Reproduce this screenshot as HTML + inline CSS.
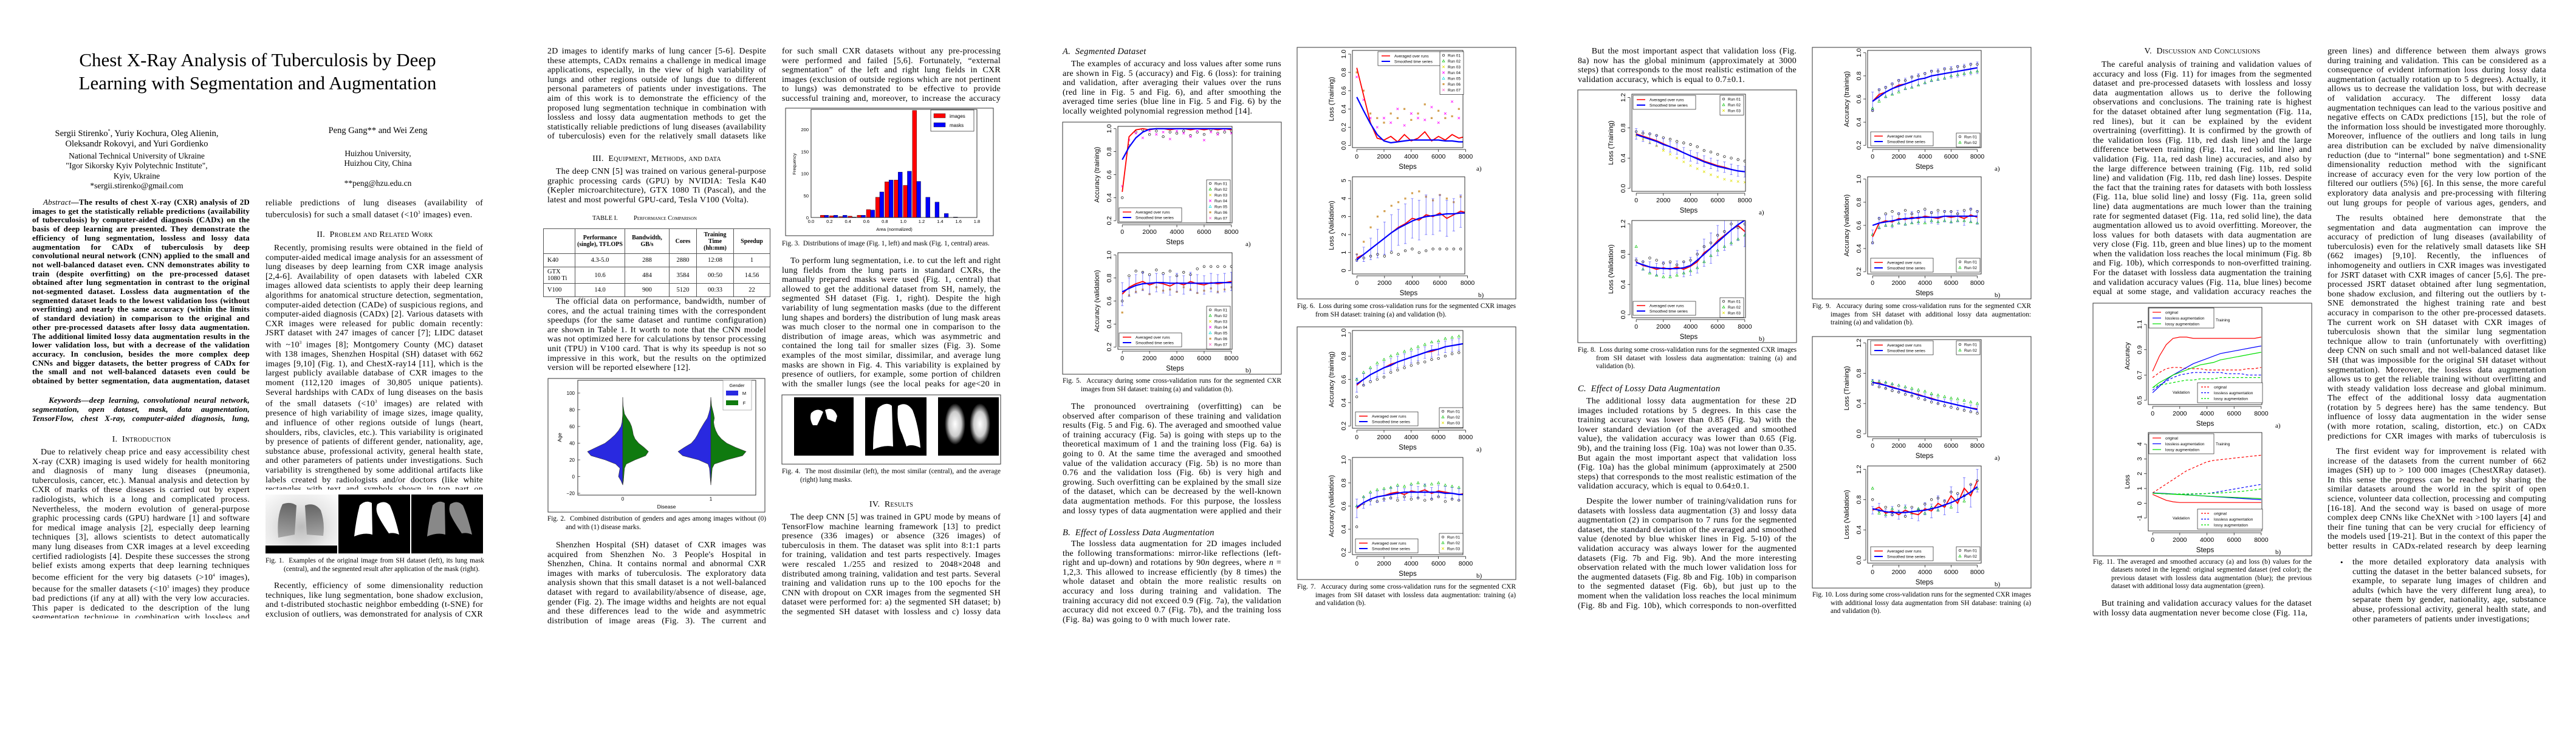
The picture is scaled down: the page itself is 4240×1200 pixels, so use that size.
<!DOCTYPE html>
<html><head><meta charset="utf-8">
<style>
html,body{margin:0;padding:0;background:#fff}
body{width:4240px;height:1200px;position:relative;overflow:hidden;font-family:"Liberation Serif",serif;color:#000}
.t{position:absolute;font-size:14px;letter-spacing:0.25px;word-spacing:0.5px;line-height:15.6px;text-align:justify;overflow:hidden;width:360px}
.ind{text-indent:14px}
.h{position:absolute;width:360px;text-align:center;font-size:14px;font-variant:small-caps;line-height:16px;letter-spacing:0.3px}
.hi{position:absolute;width:360px;font-size:14.5px;font-style:italic;line-height:16px;letter-spacing:0.3px}
.cap{position:absolute;width:330px;padding-left:30px;text-indent:-30px;font-size:11.3px;line-height:13.6px;text-align:justify;overflow:hidden}
.c{position:absolute;text-align:center}
svg{position:absolute;left:0;top:0}
table{border-collapse:collapse;position:absolute;font-size:10.5px;text-align:center}
td{border:1px solid #555;padding:0}
</style></head><body>

<div class="c" style="left:0;top:80px;width:848px;font-size:31px;line-height:38px">Chest X-Ray Analysis of Tuberculosis by Deep<br>Learning with Segmentation and Augmentation</div>
<div class="c" style="left:45px;top:207px;width:360px;font-size:14.5px;line-height:17.5px">Sergii Stirenko<sup style="font-size:8px">*</sup>, Yuriy Kochura, Oleg Alienin,<br>Oleksandr Rokovyi, and Yuri Gordienko<div style="font-size:13.5px;line-height:16.5px;margin-top:2px">National Technical University of Ukraine<br>"Igor Sikorsky Kyiv Polytechnic Institute",<br>Kyiv, Ukraine<br>*sergii.stirenko@gmail.com</div></div>
<div class="c" style="left:442px;top:207px;width:360px;font-size:14.5px;line-height:17.5px">Peng Gang** and Wei Zeng<div style="font-size:13.5px;line-height:16.5px;margin-top:20px">Huizhou University,<br>Huizhou City, China<br><br>**peng@hzu.edu.cn</div></div>

<div class="t" style="left:53px;top:326px;width:358px;height:309px;font-weight:bold;font-size:13px;letter-spacing:0.2px;line-height:14.7px"><span style="font-style:italic;font-weight:normal">&nbsp;&nbsp;&nbsp;&nbsp;Abstract</span>—The results of chest X-ray (CXR) analysis of 2D images to get the statistically reliable predictions (availability of tuberculosis) by computer-aided diagnosis (CADx) on the basis of deep learning are presented. They demonstrate the efficiency of lung segmentation, lossless and lossy data augmentation for CADx of tuberculosis by deep convolutional neural network (CNN) applied to the small and not well-balanced dataset even. CNN demonstrates ability to train (despite overfitting) on the pre-processed dataset obtained after lung segmentation in contrast to the original not-segmented dataset. Lossless data augmentation of the segmented dataset leads to the lowest validation loss (without overfitting) and nearly the same accuracy (within the limits of standard deviation) in comparison to the original and other pre-processed datasets after lossy data augmentation. The additional limited lossy data augmentation results in the lower validation loss, but with a decrease of the validation accuracy. In conclusion, besides the more complex deep CNNs and bigger datasets, the better progress of CADx for the small and not well-balanced datasets even could be obtained by better segmentation, data augmentation, dataset stratification, and exclusion of non-evident outliers.</div>
<div class="t" style="left:53px;top:652px;width:358px;height:46px;font-weight:bold;font-style:italic;font-size:13px;letter-spacing:0.2px;line-height:14.8px">&nbsp;&nbsp;&nbsp;&nbsp;Keywords—deep learning, convolutional neural network, segmentation, open dataset, mask, data augmentation, TensorFlow, chest X-ray, computer-aided diagnosis, lung, tuberculosis.</div>
<div class="h" style="left:53px;top:716px">I.&nbsp;&nbsp;Introduction</div>
<div class="t ind" style="left:53px;top:737px;width:358px;height:281px">Due to relatively cheap price and easy accessibility chest X-ray (CXR) imaging is used widely for health monitoring and diagnosis of many lung diseases (pneumonia, tuberculosis, cancer, etc.). Manual analysis and detection by CXR of marks of these diseases is carried out by expert radiologists, which is a long and complicated process. Nevertheless, the modern evolution of general-purpose graphic processing cards (GPU) hardware [1] and software for medical image analysis [2], especially deep learning techniques [3], allows scientists to detect automatically many lung diseases from CXR images at a level exceeding certified radiologists [4]. Despite these successes the strong belief exists among experts that deep learning techniques become efficient for the very big datasets (&gt;10<sup style="font-size:7px">4</sup> images), because for the smaller datasets (&lt;10<sup style="font-size:7px">3</sup> images) they produce bad predictions (if any at all) with the very low accuracies. This paper is dedicated to the description of the lung segmentation technique in combination with lossless and lossy data augmentation which allow us to get the statistically reliable</div>

<div class="t" style="left:437px;top:327px;width:358px;height:32px">reliable predictions of lung diseases (availability of tuberculosis) for such a small dataset (&lt;10<sup style="font-size:7px">3</sup> images) even.</div>
<div class="h" style="left:437px;top:379px">II.&nbsp;&nbsp;Problem and Related Work</div>
<div class="t ind" style="left:437px;top:401px;width:358px;height:405px">Recently, promising results were obtained in the field of computer-aided medical image analysis for an assessment of lung diseases by deep learning from CXR image analysis [2,4-6]. Availability of open datasets with labeled CXR images allowed data scientists to apply their deep learning algorithms for anatomical structure detection, segmentation, computer-aided detection (CADe) of suspicious regions, and computer-aided diagnosis (CADx) [2]. Various datasets with CXR images were released for public domain recently: JSRT dataset with 247 images of cancer [7]; LIDC dataset with ~10<sup style="font-size:7px">3</sup> images [8]; Montgomery County (MC) dataset with 138 images, Shenzhen Hospital (SH) dataset with 662 images [9,10] (Fig. 1), and ChestX-ray14 [11], which is the largest publicly available database of CXR images to the moment (112,120 images of 30,805 unique patients). Several hardships with CADx of lung diseases on the basis of the small datasets (&lt;10<sup style="font-size:7px">3</sup> images) are related with presence of high variability of image sizes, image quality, and influence of other regions outside of lungs (heart, shoulders, ribs, clavicles, etc.). This variability is originated by presence of patients of different gender, nationality, age, substance abuse, professional activity, general health state, and other parameters of patients under investigations. Such variability is strengthened by some additional artifacts like labels created by radiologists and/or doctors (like white rectangles with text and symbols shown in top part on Fig.1a).</div>
<div class="cap" style="left:437px;top:917px">Fig. 1.&nbsp;&nbsp;Examples of the original image from SH dataset (left), its lung mask (central), and the segmented result after application of the mask (right).</div>
<div class="t ind" style="left:437px;top:957px;width:358px;height:63px">Recently, efficiency of some dimensionality reduction techniques, like lung segmentation, bone shadow exclusion, and t-distributed stochastic neighbor embedding (t-SNE) for exclusion of outliers, was demonstrated for analysis of CXR images</div>

<!-- PAGE 2 -->
<div class="t" style="left:901px;top:77px;height:157px">2D images to identify marks of lung cancer [5-6]. Despite these attempts, CADx remains a challenge in medical image applications, especially, in the view of high variability of lungs and other regions outside of lungs due to different personal parameters of patients under investigations. The aim of this work is to demonstrate the efficiency of the proposed lung segmentation technique in combination with lossless and lossy data augmentation methods to get the statistically reliable predictions of lung diseases (availability of tuberculosis) even for the relatively small datasets like SH (&lt;10<sup style="font-size:7px">3</sup> images) [9,10].</div>
<div class="h" style="left:901px;top:254px">III.&nbsp;&nbsp;Equipment, Methods, and data</div>
<div class="t ind" style="left:901px;top:275px;height:63px">The deep CNN [5] was trained on various general-purpose graphic processing cards (GPU) by NVIDIA: Tesla K40 (Kepler microarchitecture), GTX 1080 Ti (Pascal), and the latest and most powerful GPU-card, Tesla V100 (Volta).</div>
<div style="position:absolute;left:975px;top:354px;font-size:10.5px;font-variant:small-caps;white-space:pre">TABLE I.          Performance Comparison</div>
<table style="left:894px;top:376px;width:374px;height:112px">
<tr style="height:41px;font-weight:bold;font-size:10px;line-height:11px"><td style="width:51px"></td><td style="width:81px">Performance (single), TFLOPS</td><td style="width:72px">Bandwidth, GB/s</td><td style="width:44px">Cores</td><td style="width:60px">Training Time (hh:mm)</td><td>Speedup</td></tr>
<tr style="height:22px"><td style="text-align:left;padding-left:6px">K40</td><td>4.3-5.0</td><td>288</td><td>2880</td><td>12:08</td><td>1</td></tr>
<tr style="height:27px;line-height:11px"><td style="text-align:left;padding-left:6px">GTX 1080 Ti</td><td>10.6</td><td>484</td><td>3584</td><td>00:50</td><td>14.56</td></tr>
<tr style="height:22px"><td style="text-align:left;padding-left:6px">V100</td><td>14.0</td><td>900</td><td>5120</td><td>00:33</td><td>22</td></tr>
</table>
<div class="t ind" style="left:901px;top:489px;height:125px">The official data on performance, bandwidth, number of cores, and the actual training times with the correspondent speedups (for the same dataset and runtime configuration) are shown in Table 1. It worth to note that the CNN model was not optimized here for calculations by tensor processing unit (TPU) in V100 card. That is why its speedup is not so impressive in this work, but the results on the optimized version will be reported elsewhere [12].</div>
<div class="cap" style="left:901px;top:848px">Fig. 2.&nbsp;&nbsp;Combined distribution of genders and ages among images without (0) and with (1) disease marks.</div>
<div class="t ind" style="left:901px;top:890px;height:141px">Shenzhen Hospital (SH) dataset of CXR images was acquired from Shenzhen No. 3 People's Hospital in Shenzhen, China. It contains normal and abnormal CXR images with marks of tuberculosis. The exploratory data analysis shown that this small dataset is a not well-balanced dataset with regard to availability/absence of disease, age, gender (Fig. 2). The image widths and heights are not equal and these differences lead to the wide and asymmetric distribution of image areas (Fig. 3). The current and previous attempts to perform training</div>
<div class="t" style="left:1287px;top:77px;height:94px">for such small CXR datasets without any pre-processing were performed and failed [5,6]. Fortunately, “external segmentation” of the left and right lung fields in CXR images (exclusion of outside regions which are not pertinent to lungs) was demonstrated to be effective to provide successful training and, moreover, to increase the accuracy of predictions [5,6].</div>
<div class="cap" style="left:1287px;top:395px;width:335px;padding-left:25px;text-indent:-25px">Fig. 3.&nbsp;&nbsp;Distributions of image (Fig. 1, left) and mask (Fig. 1, central) areas.</div>
<div class="t ind" style="left:1287px;top:422px;height:219px">To perform lung segmentation, i.e. to cut the left and right lung fields from the lung parts in standard CXRs, the manually prepared masks were used (Fig. 1, central) that allowed to get the additional dataset from SH, namely, the segmented SH dataset (Fig. 1, right). Despite the high variability of lung segmentation masks (due to the different lung shapes and borders) the distribution of lung mask areas was much closer to the normal one in comparison to the distribution of image areas, which was asymmetric and contained the long tail for smaller sizes (Fig. 3). Some examples of the most similar, dissimilar, and average lung masks are shown in Fig. 4. This variability is explained by presence of outliers, for example, some portion of children with the smaller lungs (see the local peaks for age&lt;20 in Fig. 2).</div>
<div class="cap" style="left:1287px;top:770px">Fig. 4.&nbsp;&nbsp;The most dissimilar (left), the most similar (central), and the average (right) lung masks.</div>
<div class="h" style="left:1287px;top:823px">IV.&nbsp;&nbsp;Results</div>
<div class="t ind" style="left:1287px;top:844px;height:172px">The deep CNN [5] was trained in GPU mode by means of TensorFlow machine learning framework [13] to predict presence (336 images) or absence (326 images) of tuberculosis in them. The dataset was split into 8:1:1 parts for training, validation and test parts respectively. Images were rescaled 1./255 and resized to 2048×2048 and distributed among training, validation and test parts. Several training and validation runs up to the 100 epochs for the CNN with dropout on CXR images from the segmented SH dataset were performed for: a) the segmented SH dataset; b) the segmented SH dataset with lossless and c) lossy data augmentation.</div>

<!-- PAGE 3 -->
<div class="hi" style="left:1749px;top:77px">A.&nbsp;&nbsp;Segmented Dataset</div>
<div class="t ind" style="left:1749px;top:98px;height:94px">The examples of accuracy and loss values after some runs are shown in Fig. 5 (accuracy) and Fig. 6 (loss): for training and validation, after averaging their values over the runs (red line in Fig. 5 and Fig. 6), and after smoothing the averaged time series (blue line in Fig. 5 and Fig. 6) by the locally weighted polynomial regression method [14].</div>
<div class="cap" style="left:1749px;top:621px">Fig. 5.&nbsp;&nbsp;Accuracy during some cross-validation runs for the segmented CXR images from SH dataset: training (a) and validation (b).</div>
<div class="t ind" style="left:1749px;top:662px;height:188px">The pronounced overtraining (overfitting) can be observed after comparison of these training and validation results (Fig. 5 and Fig. 6). The averaged and smoothed value of training accuracy (Fig. 5a) is going with steps up to the theoretical maximum of 1 and the training loss (Fig. 6a) is going to 0. At the same time the averaged and smoothed value of the validation accuracy (Fig. 5b) is no more than 0.76 and the validation loss (Fig. 6b) is very high and growing. Such overfitting can be explained by the small size of the dataset, which can be decreased by the well-known data augmentation methods. For this purpose, the lossless and lossy types of data augmentation were applied and their role investigated.</div>
<div class="hi" style="left:1749px;top:869px">B.&nbsp;&nbsp;Effect of Lossless Data Augmentation</div>
<div class="t ind" style="left:1749px;top:888px;height:141px">The lossless data augmentation for 2D images included the following transformations: mirror-like reflections (left-right and up-down) and rotations by 90<i>n</i> degrees, where <i>n</i> = 1,2,3. This allowed to increase efficiently (by 8 times) the whole dataset and obtain the more realistic results on accuracy and loss during training and validation. The training accuracy did not exceed 0.9 (Fig. 7a), the validation accuracy did not exceed 0.7 (Fig. 7b), and the training loss (Fig. 8a) was going to 0 with much lower rate.</div>
<div class="cap" style="left:2135px;top:498px">Fig. 6.&nbsp;&nbsp;Loss during some cross-validation runs for the segmented CXR images from SH dataset: training (a) and validation (b).</div>
<div class="cap" style="left:2135px;top:960px">Fig. 7.&nbsp;&nbsp;Accuracy during some cross-validation runs for the segmented CXR images from SH dataset with lossless data augmentation: training (a) and validation (b).</div>

<!-- PAGE 4 -->
<div class="t" style="left:2597px;top:77px;height:63px">&nbsp;&nbsp;&nbsp;&nbsp;But the most important aspect that validation loss (Fig. 8a) now has the global minimum (approximately at 3000 steps) that corresponds to the most realistic estimation of the validation accuracy, which is equal to 0.7±0.1.</div>
<div class="cap" style="left:2597px;top:570px">Fig. 8.&nbsp;&nbsp;Loss during some cross-validation runs for the segmented CXR images from SH dataset with lossless data augmentation: training (a) and validation (b).</div>
<div class="hi" style="left:2597px;top:632px">C.&nbsp;&nbsp;Effect of Lossy Data Augmentation</div>
<div class="t ind" style="left:2597px;top:653px;height:157px">The additional lossy data augmentation for these 2D images included rotations by 5 degrees. In this case the training accuracy was lower than 0.85 (Fig. 9a) with the lower standard deviation (of the averaged and smoothed value), the validation accuracy was lower than 0.65 (Fig. 9b), and the training loss (Fig. 10a) was not lower than 0.35. But again the most important aspect that validation loss (Fig. 10a) has the global minimum (approximately at 2500 steps) that corresponds to the most realistic estimation of the validation accuracy, which is equal to 0.64±0.1.</div>
<div class="t ind" style="left:2597px;top:818px;height:188px">Despite the lower number of training/validation runs for datasets with lossless data augmentation (3) and lossy data augmentation (2) in comparison to 7 runs for the segmented dataset, the standard deviation of the averaged and smoothed value (denoted by blue whisker lines in Fig. 5-10) of the validation accuracy was always lower for the augmented datasets (Fig. 7b and Fig. 9b). And the more interesting observation related with the much lower validation loss for the augmented datasets (Fig. 8b and Fig. 10b) in comparison to the segmented dataset (Fig. 6b), but just up to the moment when the validation loss reaches the local minimum (Fig. 8b and Fig. 10b), which corresponds to non-overfitted training.</div>
<div class="cap" style="left:2983px;top:498px">Fig. 9.&nbsp;&nbsp;Accuracy during some cross-validation runs for the segmented CXR images from SH dataset with additional lossy data augmentation: training (a) and validation (b).</div>
<div class="cap" style="left:2983px;top:973px">Fig. 10. Loss during some cross-validation runs for the segmented CXR images with additional lossy data augmentation from SH database: training (a) and validation (b).</div>

<!-- PAGE 5 -->
<div class="h" style="left:3445px;top:77px">V.&nbsp;&nbsp;Discussion and Conclusions</div>
<div class="t ind" style="left:3445px;top:99px;height:390px">The careful analysis of training and validation values of accuracy and loss (Fig. 11) for images from the segmented dataset and pre-processed datasets with lossless and lossy data augmentation allows us to derive the following observations and conclusions. The training rate is highest for the dataset obtained after lung segmentation (Fig. 11a, red lines), but it can be explained by the evident overtraining (overfitting). It is confirmed by the growth of the validation loss (Fig. 11b, red dash line) and the large difference between training (Fig. 11a, red solid line) and validation (Fig. 11a, red dash line) accuracies, and also by the large difference between training (Fig. 11b, red solid line) and validation (Fig. 11b, red dash line) losses. Despite the fact that the training rates for datasets with both lossless (Fig. 11a, blue solid line) and lossy (Fig. 11a, green solid line) data augmentations are much lower than the training rate for segmented dataset (Fig. 11a, red solid line), the data augmentation allowed us to avoid overfitting. Moreover, the loss values for both datasets with data augmentation are very close (Fig. 11b, green and blue lines) up to the moment when the validation loss reaches the local minimum (Fig. 8b and Fig. 10b), which corresponds to non-overfitted training. For the dataset with lossless data augmentation the training and validation accuracy values (Fig. 11a, blue lines) become equal at some stage, and validation accuracy reaches the maximum just near the local minimum of the validation loss.</div>
<div class="cap" style="left:3445px;top:919px;line-height:13.3px">Fig. 11. The averaged and smoothed accuracy (a) and loss (b) values for the datasets noted in the legend: original segmented dataset (red color); the previous dataset with lossless data augmentation (blue); the previous dataset with additional lossy data augmentation (green).</div>
<div class="t ind" style="left:3445px;top:986px;height:32px">But training and validation accuracy values for the dataset with lossy data augmentation never become close (Fig. 11a,</div>
<div class="t" style="left:3831px;top:77px;height:267px">green lines) and difference between them always grows during training and validation. This can be considered as a consequence of evident information loss during lossy data augmentation (actually rotation up to 5 degrees). Actually, it allows us to decrease the validation loss, but with decrease of validation accuracy. The different lossy data augmentation techniques can lead to the various positive and negative effects on CADx predictions [15], but the role of the information loss should be investigated more thoroughly. Moreover, influence of the outliers and long tails in lung area distribution can be excluded by naïve dimensionality reduction (due to “internal” bone segmentation) and t-SNE dimensionality reduction method with the significant increase of accuracy even for the very low portion of the filtered our outliers (5%) [6]. In this sense, the more careful exploratory data analysis and pre-processing with filtering out lung groups for people of various ages, genders, and geographical origin will be very promising.</div>
<div class="t ind" style="left:3831px;top:352px;height:375px">The results obtained here demonstrate that the segmentation and data augmentation can improve the accuracy of prediction of lung diseases (availability of tuberculosis) even for the relatively small datasets like SH (662 images) [9,10]. Recently, the influences of inhomogeneity and outliers in CXR images was investigated for JSRT dataset with CXR images of cancer [5,6]. The pre-processed JSRT dataset obtained after lung segmentation, bone shadow exclusion, and filtering out the outliers by t-SNE demonstrated the highest training rate and best accuracy in comparison to the other pre-processed datasets. The current work on SH dataset with CXR images of tuberculosis shown that the similar lung segmentation technique allow to train (unfortunately with overfitting) deep CNN on such small and not well-balanced dataset like SH (that was impossible for the original SH dataset without segmentation). Moreover, the lossless data augmentation allows us to get the reliable training without overfitting and with steady validation loss decrease and global minimum. The effect of the additional lossy data augmentation (rotation by 5 degrees here) has the same tendency. But influence of lossy data augmentation in the wider sense (with more rotation, scaling, distortion, etc.) on CADx predictions for CXR images with marks of tuberculosis is open question yet and should be investigated along with other lung datasets [15].</div>
<div class="t ind" style="left:3831px;top:736px;height:172px">The first evident way for improvement is related with increase of the datasets from the current number of 662 images (SH) up to &gt; 100 000 images (ChestXRay dataset). In this sense the progress can be reached by sharing the similar datasets around the world in the spirit of open science, volunteer data collection, processing and computing [16-18]. And the second way is based on usage of more complex deep CNNs like CheXNet with &gt;100 layers [4] and their fine tuning that can be very crucial for efficiency of the models used [19-21]. But in the context of this paper the better results in CADx-related research by deep learning could also be reached by:</div>
<div style="position:absolute;left:3852px;top:918px;font-size:13px;line-height:15.6px">•</div>
<div class="t" style="left:3872px;top:918px;width:319px;height:110px">the more detailed exploratory data analysis with cutting the dataset in the better balanced subsets, for example, to separate lung images of children and adults (which have the very different lung area), to separate them by gender, nationality, age, substance abuse, professional activity, general health state, and other parameters of patients under investigations;</div>

<svg id="charts" width="4240" height="1200" viewBox="0 0 4240 1200">
<defs>
<radialGradient id="xr" cx="50%" cy="55%" r="70%"><stop offset="0" stop-color="#bbb"/><stop offset="0.6" stop-color="#e8e8e8"/><stop offset="1" stop-color="#fafafa"/></radialGradient>
<linearGradient id="lungdark" x1="0" y1="0" x2="0" y2="1"><stop offset="0" stop-color="#444"/><stop offset="1" stop-color="#999"/></linearGradient>
<radialGradient id="blur" cx="50%" cy="50%" r="50%"><stop offset="0" stop-color="#fff"/><stop offset="0.6" stop-color="#ccc"/><stop offset="1" stop-color="#000"/></radialGradient>
</defs>
<g>
<rect x="437" y="814" width="118" height="97" fill="url(#xr)"/>
<rect x="437" y="898" width="118" height="13" fill="#000"/>
<path d="M465 830 Q455 850 458 885 L485 880 L488 832 Q478 825 465 830Z" fill="url(#lungdark)" opacity="0.8"/>
<path d="M502 832 Q518 826 528 840 Q535 860 532 882 L505 880 Z" fill="url(#lungdark)" opacity="0.8"/>
<rect x="557" y="814" width="118" height="97" fill="#000"/>
<path d="M592 832 Q602 822 612 828 L613 880 Q600 876 583 883 Q586 855 592 832Z" fill="#fff"/>
<path d="M621 830 Q633 822 642 832 Q650 850 657 880 Q648 876 640 878 Q628 860 624 852 Q617 840 621 830Z" fill="#fff"/>
<rect x="677" y="814" width="118" height="97" fill="#000"/>
<path d="M712 832 Q722 822 732 828 L733 880 Q720 876 703 883 Q706 855 712 832Z" fill="#888"/>
<path d="M741 830 Q753 822 762 832 Q770 850 777 880 Q768 876 760 878 Q748 860 744 852 Q737 840 741 830Z" fill="#888"/>
</g>
<g>
<rect x="1287" y="650" width="360" height="114" fill="none" stroke="#333" stroke-width="1"/>
<rect x="1307" y="654" width="98" height="96" fill="#000"/>
<path d="M1335 680 Q1345 670 1355 678 Q1350 690 1345 700 L1338 700 Q1332 690 1335 680Z" fill="#fff"/>
<path d="M1358 675 Q1372 668 1378 685 L1375 695 L1362 690 Z" fill="#fff"/>
<rect x="1424" y="654" width="101" height="96" fill="#000"/>
<path d="M1445 672 Q1458 660 1468 668 L1470 735 Q1455 732 1437 740 Q1437 700 1445 672Z" fill="#fff"/>
<path d="M1478 668 Q1492 660 1502 675 Q1512 700 1515 737 Q1500 730 1492 735 L1485 715 Q1475 695 1478 668Z" fill="#fff"/>
<rect x="1544" y="654" width="100" height="96" fill="#000"/>
<ellipse cx="1572" cy="698" rx="17" ry="34" fill="url(#blur)"/>
<ellipse cx="1613" cy="698" rx="17" ry="34" fill="url(#blur)"/>
</g>
<rect x="902" y="623" width="357" height="220" fill="none" stroke="#333"/>
<rect x="1293" y="178" width="342" height="210" fill="none" stroke="#333"/>
<rect x="1749" y="201" width="360" height="415" fill="none" stroke="#333"/>
<rect x="2135" y="78" width="360" height="414" fill="none" stroke="#333"/>
<rect x="2135" y="538" width="360" height="416" fill="none" stroke="#333"/>
<rect x="2597" y="148" width="360" height="416" fill="none" stroke="#333"/>
<rect x="2983" y="78" width="360" height="414" fill="none" stroke="#333"/>
<rect x="2983" y="554" width="360" height="414" fill="none" stroke="#333"/>
<rect x="3445" y="499" width="360" height="416" fill="none" stroke="#333"/>
</svg>

<script>
// ===== Data =====
const steps = [0,500,1000,1500,2000,2500,3000,3500,4000,4500,5000,5500,6000,6500,7000,7500,8000];
const stepTicks = [0,2000,4000,6000,8000];
const accTicks = [0.2,0.4,0.6,0.8,1.0];
const loss1Ticks = [0,0.2,0.4,0.6,0.8,1.0];
const loss5Ticks = [0,1,2,3,4,5];
const loss12Ticks = [0,0.4,0.8,1.2];
const f11aTicks = [0.5,0.7,0.9,1.1];
const f11bTicks = [-1,0,1,2,3,4];

const f5aAvg = [0.45,0.93,0.99,1.0,0.99,1.0,1.0,0.99,1.0,1.0,0.99,1.0,0.99,1.0,0.99,1.0,0.99];
const f5aSmooth = [0.73,0.84,0.92,0.97,0.995,1.0,1.0,1.0,1.0,1.0,1.0,1.0,1.0,1.0,1.0,1.0,1.0];
const f5aRun1 = [0.4,0.85,0.97,0.99,0.95,0.98,0.93,0.97,0.96,0.98,0.94,0.97,0.95,0.99,0.96,0.97,0.98];
const f5aRun2 = [0.5,0.9,0.96,0.92,0.98,0.95,0.97,0.91,0.98,0.96,0.93,0.98,0.9,0.97,0.95,0.99,0.96];

const f5bAvg = [0.66,0.72,0.75,0.77,0.74,0.76,0.75,0.73,0.76,0.74,0.77,0.75,0.74,0.76,0.75,0.76,0.77];
const f5bSmooth = [0.68,0.71,0.735,0.75,0.755,0.76,0.76,0.755,0.755,0.755,0.755,0.755,0.755,0.755,0.76,0.76,0.76];
const f5bRun1 = [0.6,0.82,0.86,0.85,0.83,0.87,0.84,0.86,0.82,0.85,0.83,0.88,0.9,0.9,0.9,0.9,0.9];
const f5bRun2 = [0.5,0.65,0.68,0.7,0.66,0.72,0.69,0.7,0.68,0.72,0.7,0.67,0.69,0.71,0.68,0.7,0.72];
const f5bSd = [0.1,0.08,0.08,0.08,0.08,0.08,0.08,0.08,0.08,0.08,0.08,0.08,0.08,0.08,0.08,0.08,0.08];

const f6aAvg = [0.85,0.55,0.25,0.08,0.06,0.1,0.04,0.12,0.05,0.08,0.15,0.05,0.1,0.06,0.12,0.08,0.1];
const f6aSmooth = [0.53,0.38,0.24,0.12,0.05,0.03,0.04,0.05,0.06,0.06,0.06,0.06,0.06,0.05,0.05,0.04,0.04];
const f6aRun1 = [0.8,0.6,0.35,0.3,0.25,0.35,0.3,0.4,0.28,0.35,0.45,0.3,0.38,0.3,0.32,0.4,0.35];
const f6aRun2 = [0.75,0.5,0.3,0.2,0.3,0.25,0.4,0.22,0.35,0.3,0.28,0.42,0.25,0.35,0.48,0.3,0.25];

const f6bAvg = [0.7,0.9,1.2,1.5,1.8,2.1,2.4,2.6,2.9,2.8,3.1,3.0,3.2,2.9,3.1,3.3,3.2];
const f6bSmooth = [0.6,0.9,1.2,1.5,1.8,2.1,2.35,2.55,2.75,2.9,3.0,3.05,3.1,3.15,3.15,3.2,3.2];
const f6bRun1 = [0.6,0.7,0.8,0.9,0.8,1.0,0.9,1.1,1.2,1.0,1.1,1.2,1.2,1.2,1.2,1.2,1.2];
const f6bRun2 = [0.9,1.6,2.4,3.0,3.3,3.6,3.8,4.0,4.3,4.4,4.1,3.9,4.2,4.0,3.8,4.1,4.3];
const f6bSd = [0.2,0.4,0.6,0.8,0.9,1.0,1.0,1.1,1.1,1.1,1.1,1.0,1.0,1.0,0.9,0.9,0.9];

const f7aAvg = [0.55,0.6,0.64,0.67,0.7,0.73,0.75,0.77,0.79,0.81,0.83,0.84,0.86,0.88,0.89,0.9,0.91];
const f7aSmooth = [0.56,0.6,0.64,0.67,0.7,0.72,0.75,0.77,0.79,0.81,0.83,0.85,0.86,0.88,0.89,0.9,0.91];
const f7aRun1 = [0.45,0.55,0.58,0.6,0.62,0.66,0.68,0.7,0.72,0.74,0.75,0.77,0.78,0.8,0.82,0.83,0.85];
const f7aRun2 = [0.6,0.66,0.7,0.74,0.77,0.8,0.82,0.84,0.86,0.88,0.9,0.92,0.93,0.95,0.96,0.97,0.97];
const f7aSd = [0.06,0.05,0.05,0.05,0.05,0.05,0.05,0.05,0.05,0.05,0.05,0.05,0.05,0.05,0.05,0.05,0.05];

const f7bAvg = [0.58,0.63,0.66,0.68,0.69,0.71,0.72,0.7,0.73,0.72,0.74,0.71,0.73,0.72,0.71,0.7,0.71];
const f7bSmooth = [0.59,0.63,0.66,0.68,0.69,0.7,0.71,0.72,0.72,0.72,0.72,0.72,0.72,0.71,0.71,0.7,0.7];
const f7bRun1 = [0.42,0.62,0.65,0.64,0.66,0.67,0.65,0.68,0.66,0.67,0.65,0.66,0.68,0.64,0.66,0.65,0.66];
const f7bRun2 = [0.6,0.68,0.72,0.74,0.75,0.76,0.78,0.77,0.79,0.8,0.78,0.79,0.8,0.78,0.77,0.76,0.78];
const f7bSd = [0.08,0.05,0.05,0.05,0.05,0.05,0.05,0.05,0.05,0.05,0.05,0.05,0.05,0.05,0.05,0.05,0.05];

const f8aAvg = [0.72,0.69,0.66,0.63,0.59,0.55,0.52,0.47,0.43,0.4,0.36,0.33,0.3,0.28,0.25,0.23,0.22];
const f8aSmooth = [0.71,0.68,0.65,0.62,0.58,0.55,0.51,0.47,0.43,0.39,0.35,0.32,0.29,0.27,0.25,0.23,0.22];
const f8aRun1 = [0.75,0.73,0.72,0.7,0.67,0.65,0.62,0.6,0.58,0.55,0.5,0.48,0.45,0.42,0.4,0.38,0.36];
const f8aRun2 = [0.7,0.65,0.6,0.56,0.5,0.45,0.4,0.35,0.3,0.26,0.22,0.18,0.15,0.12,0.1,0.09,0.08];
const f8aSd = [0.07,0.07,0.07,0.07,0.07,0.07,0.07,0.07,0.07,0.07,0.07,0.07,0.07,0.07,0.07,0.07,0.07];

const f8bAvg = [0.7,0.65,0.63,0.6,0.62,0.6,0.63,0.6,0.64,0.7,0.82,0.88,0.98,1.05,1.12,1.18,1.1];
const f8bSmooth = [0.69,0.66,0.63,0.62,0.61,0.61,0.61,0.62,0.65,0.72,0.8,0.88,0.96,1.04,1.12,1.19,1.25];
const f8bRun1 = [0.72,0.7,0.75,0.72,0.68,0.7,0.66,0.7,0.72,0.8,0.9,0.95,1.05,1.1,1.2,1.15,1.2];
const f8bRun2 = [0.9,0.6,0.55,0.52,0.5,0.5,0.52,0.55,0.58,0.62,0.7,0.78,0.85,0.9,0.95,1.0,1.05];
const f8bSd = [0.05,0.06,0.07,0.08,0.08,0.08,0.08,0.1,0.12,0.15,0.18,0.2,0.2,0.2,0.2,0.2,0.2];

const f9aAvg = [0.58,0.64,0.66,0.69,0.72,0.73,0.75,0.77,0.78,0.8,0.81,0.82,0.83,0.84,0.85,0.86,0.87];
const f9aSmooth = [0.58,0.62,0.66,0.69,0.71,0.73,0.75,0.77,0.78,0.8,0.81,0.82,0.83,0.84,0.85,0.86,0.87];
const f9aRun1 = [0.5,0.68,0.7,0.73,0.76,0.76,0.79,0.8,0.82,0.84,0.84,0.86,0.86,0.88,0.88,0.9,0.9];
const f9aRun2 = [0.52,0.58,0.62,0.64,0.66,0.69,0.7,0.72,0.74,0.76,0.77,0.78,0.8,0.81,0.82,0.83,0.84];
const f9aSd = [0.08,0.05,0.05,0.05,0.05,0.05,0.05,0.05,0.05,0.05,0.05,0.05,0.05,0.05,0.05,0.05,0.05];

const f9bAvg = [0.5,0.62,0.64,0.63,0.66,0.65,0.67,0.66,0.68,0.67,0.66,0.68,0.67,0.68,0.66,0.69,0.67];
const f9bSmooth = [0.6,0.62,0.63,0.64,0.65,0.66,0.66,0.67,0.67,0.67,0.67,0.68,0.68,0.68,0.68,0.68,0.68];
const f9bRun1 = [0.45,0.66,0.7,0.72,0.7,0.73,0.7,0.72,0.74,0.71,0.73,0.72,0.72,0.7,0.73,0.74,0.72];
const f9bRun2 = [0.52,0.58,0.6,0.6,0.62,0.61,0.62,0.63,0.62,0.64,0.63,0.64,0.63,0.64,0.64,0.63,0.62];
const f9bSd = [0.06,0.05,0.05,0.05,0.05,0.05,0.05,0.05,0.05,0.05,0.05,0.05,0.05,0.05,0.06,0.06,0.06];

const f10aAvg = [0.68,0.67,0.64,0.62,0.59,0.57,0.54,0.52,0.49,0.47,0.44,0.42,0.4,0.38,0.36,0.34,0.33];
const f10aSmooth = [0.68,0.66,0.64,0.61,0.59,0.56,0.54,0.51,0.49,0.46,0.44,0.42,0.4,0.38,0.36,0.34,0.32];
const f10aRun1 = [0.66,0.62,0.6,0.57,0.55,0.52,0.5,0.47,0.45,0.42,0.4,0.37,0.35,0.33,0.31,0.29,0.27];
const f10aRun2 = [0.7,0.69,0.68,0.66,0.64,0.62,0.6,0.58,0.56,0.53,0.51,0.49,0.47,0.46,0.44,0.42,0.4];
const f10aSd = [0.04,0.04,0.04,0.04,0.04,0.04,0.04,0.04,0.04,0.04,0.04,0.04,0.04,0.04,0.04,0.04,0.04];

const f10bAvg = [0.66,0.7,0.62,0.65,0.6,0.66,0.62,0.6,0.68,0.65,0.75,0.7,0.85,0.75,0.95,0.85,1.05];
const f10bSmooth = [0.68,0.66,0.64,0.63,0.63,0.63,0.64,0.65,0.66,0.68,0.7,0.73,0.76,0.8,0.85,0.9,0.97];
const f10bRun1 = [0.8,0.65,0.7,0.6,0.72,0.58,0.7,0.66,0.74,0.8,0.82,0.78,0.9,0.88,0.85,1.0,1.05];
const f10bRun2 = [0.95,0.62,0.6,0.68,0.64,0.7,0.62,0.68,0.62,0.7,0.66,0.72,0.7,0.8,0.78,0.9,0.95];
const f10bSd = [0.05,0.05,0.05,0.06,0.06,0.07,0.07,0.08,0.08,0.09,0.1,0.1,0.12,0.12,0.14,0.15,0.15];

const f11aOrigTrain = [0.73,0.85,0.94,0.99,1.0,1.0,0.99,0.99,0.99,0.99,0.99,0.99,0.99,0.99,0.99,0.99,1.0];
const f11aOrigVal = [0.68,0.72,0.75,0.76,0.76,0.75,0.75,0.75,0.74,0.74,0.74,0.74,0.74,0.74,0.75,0.75,0.76];
const f11aLosslessTrain = [0.56,0.61,0.66,0.7,0.73,0.76,0.79,0.81,0.83,0.85,0.87,0.88,0.89,0.9,0.91,0.92,0.93];
const f11aLosslessVal = [0.58,0.62,0.65,0.68,0.7,0.71,0.72,0.72,0.72,0.72,0.72,0.71,0.71,0.71,0.7,0.7,0.7];
const f11aLossyTrain = [0.6,0.64,0.67,0.7,0.72,0.74,0.76,0.78,0.79,0.8,0.82,0.83,0.84,0.85,0.86,0.87,0.88];
const f11aLossyVal = [0.6,0.62,0.63,0.64,0.65,0.66,0.66,0.67,0.67,0.67,0.68,0.68,0.68,0.68,0.68,0.68,0.68];
const f11bOrigTrain = [0.6,0.4,0.2,0.1,0.05,0.05,0.05,0.05,0.05,0.05,0.05,0.05,0.05,0.05,0.05,0.05,0.05];
const f11bOrigVal = [0.7,1.0,1.3,1.6,1.9,2.2,2.4,2.6,2.8,2.9,2.95,3.0,3.05,3.1,3.15,3.2,3.25];
const f11bLosslessTrain = [0.7,0.68,0.66,0.63,0.6,0.57,0.54,0.51,0.48,0.45,0.42,0.39,0.36,0.33,0.3,0.27,0.24];
const f11bLosslessVal = [0.7,0.66,0.63,0.62,0.61,0.61,0.62,0.63,0.66,0.72,0.8,0.88,0.96,1.04,1.12,1.2,1.28];
const f11bLossyTrain = [0.68,0.66,0.64,0.61,0.59,0.56,0.54,0.51,0.49,0.46,0.44,0.42,0.4,0.38,0.36,0.34,0.32];
const f11bLossyVal = [0.68,0.66,0.64,0.63,0.63,0.63,0.64,0.65,0.66,0.68,0.7,0.73,0.76,0.8,0.85,0.9,0.97];

const ages = [-10,-5,0,5,10,15,20,25,30,35,40,45,50,55,60,65,70,75,80,85,90,95];
const ageTicks = [-20,0,20,40,60,80,100];
const d0Male = [0,0.05,0.12,0.1,0.08,0.2,0.5,0.9,1.0,0.75,0.5,0.35,0.22,0.12,0.05,0.02,0.01,0,0,0,0,0];
const d0Female = [0,0.02,0.03,0.04,0.05,0.1,0.35,0.65,0.73,0.6,0.45,0.35,0.3,0.28,0.25,0.2,0.12,0.05,0.03,0.01,0.005,0];
const d1Male = [0,0.01,0.02,0.03,0.04,0.08,0.35,0.8,0.93,0.75,0.55,0.45,0.38,0.32,0.25,0.18,0.1,0.06,0.03,0.01,0.005,0];
const d1Female = [0,0.01,0.02,0.03,0.04,0.1,0.45,0.9,1.0,0.7,0.45,0.3,0.2,0.14,0.1,0.08,0.1,0.08,0.05,0.02,0.01,0];

const areaBins = [0.1,0.2,0.3,0.4,0.5,0.6,0.7,0.8,0.9,1.0,1.1,1.2,1.3,1.4,1.5];
const imageCounts = [5,4,2,3,5,18,46,81,85,73,243,0,0,0,0];
const maskCounts = [5,5,5,1,5,17,58,85,103,105,82,46,35,9,1];
const areaTicks = [0,0.2,0.4,0.6,0.8,1.0,1.2,1.4,1.6,1.8];
const freqTicks = [0,50,100,150,200];

// ===== Drawing =====
const NS = 'http://www.w3.org/2000/svg';
const svg = document.getElementById('charts');
function mk(tag, attrs, parent){
  const e = document.createElementNS(NS, tag);
  for (const k in attrs) e.setAttribute(k, attrs[k]);
  (parent || svg).appendChild(e);
  return e;
}
function txt(parent, x, y, s, size, anchor, rot){
  const t = mk('text', {x:x, y:y, 'font-size':size, 'font-family':'Liberation Sans, sans-serif', 'text-anchor':anchor||'middle'}, parent);
  if (rot) t.setAttribute('transform', 'rotate(' + rot + ' ' + x + ' ' + y + ')');
  t.textContent = s;
  return t;
}
function marker(g, x, y, shape, color){
  let m;
  if (shape === 'o') m = mk('circle', {cx:x, cy:y, r:1.8, fill:'none', stroke:color, 'stroke-width':0.7}, g);
  else if (shape === '^') m = mk('path', {d:'M'+x+' '+(y-2.2)+' L'+(x+2)+' '+(y+1.5)+' L'+(x-2)+' '+(y+1.5)+'Z', fill:'none', stroke:color, 'stroke-width':0.7}, g);
  else if (shape === 's') m = mk('rect', {x:x-1.6, y:y-1.6, width:3.2, height:3.2, fill:color}, g);
  else m = mk('path', {d:'M'+(x-1.8)+' '+(y-1.8)+' L'+(x+1.8)+' '+(y+1.8)+' M'+(x+1.8)+' '+(y-1.8)+' L'+(x-1.8)+' '+(y+1.8), stroke:color, 'stroke-width':0.8}, g);
  return m;
}
const runColors = ['#000','#00c000','#e0e000','#ff00ff','#00e0e0','#d4a050','#ff66cc'];
const runShapes = ['o','^','+','x','^','s','x'];
let clipN = 0;
function plot(c){
  const g = mk('g', {});
  
  
  const sx = v => c.x0 + (v - c.xl[0]) / (c.xl[1] - c.xl[0]) * (c.x1 - c.x0);
  const sy = v => c.y1 - (v - c.yl[0]) / (c.yl[1] - c.yl[0]) * (c.y1 - c.y0);
  const id = 'cp' + (clipN++);
  const cp = mk('clipPath', {id:id}, g);
  mk('rect', {x:c.x0, y:c.y0, width:c.x1-c.x0, height:c.y1-c.y0}, cp);
  const data = mk('g', {'clip-path':'url(#' + id + ')'}, g);
  
  
  c.series.forEach(s => {
    if (s.kind === 'pts') {
      s.d.forEach((v, i) => {
        const m = marker(data, sx(steps[i]), sy(v), s.shape, s.color);
        
        
      });
    } else if (s.kind === 'err') {
      s.d.forEach((v, i) => {
        const x = sx(steps[i]);
        const e = mk('path', {d:'M'+x+' '+sy(v - s.sd[i])+' V'+sy(v + s.sd[i])+' M'+(x-2)+' '+sy(v - s.sd[i])+' h4 M'+(x-2)+' '+sy(v + s.sd[i])+' h4', stroke:'#3a3aff', 'stroke-width':0.8, opacity:0.75}, data);
        
        
      });
    } else {
      const pts = s.d.map((v, i) => sx(steps[i]).toFixed(1) + ',' + sy(v).toFixed(1)).join(' ');
      const l = mk('polyline', {points:pts, fill:'none', stroke:s.color, 'stroke-width':s.w || 2}, data);
      if (s.dash) l.setAttribute('stroke-dasharray', s.dash);
      
      
    }
  });
  const fr = mk('rect', {x:c.x0, y:c.y0, width:c.x1-c.x0, height:c.y1-c.y0, fill:'none', stroke:'#000', 'stroke-width':0.8}, g);
  
  
  const ya = mk('g', {}, g);
  
  
  mk('line', {x1:c.x0-3, x2:c.x0-3, y1:sy(c.yt[0]), y2:sy(c.yt[c.yt.length-1]), stroke:'#000', 'stroke-width':0.7}, ya);
  c.yt.forEach(t => {
    mk('line', {x1:c.x0-7, x2:c.x0-3, y1:sy(t), y2:sy(t), stroke:'#000', 'stroke-width':0.7}, ya);
    const lb = txt(ya, c.x0-11, sy(t), c.fmt(t), 10.5, 'middle', -90);
    
    
  });
  const yl = txt(ya, c.x0-31, (c.y0+c.y1)/2, c.ylab, 11, 'middle', -90);
  
  
  const xa = mk('g', {}, g);
  
  
  mk('line', {x1:sx(stepTicks[0]), x2:sx(stepTicks[stepTicks.length-1]), y1:c.y1+3, y2:c.y1+3, stroke:'#000', 'stroke-width':0.7}, xa);
  stepTicks.forEach(t => {
    mk('line', {x1:sx(t), x2:sx(t), y1:c.y1+3, y2:c.y1+7, stroke:'#000', 'stroke-width':0.7}, xa);
    const lb = txt(xa, sx(t), c.y1+18, String(t), 10.5);
    
    
  });
  const xl = txt(xa, (c.x0+c.x1)/2, c.y1+35, 'Steps', 11.5);
  
  
  const pl = mk('text', {x:c.x1+22, y:c.y1+38, 'font-size':11, 'font-family':'Liberation Serif, serif'}, g);
  pl.textContent = c.panel;
  
  
  if (c.legA) {
    const lg = mk('g', {}, g);
    
    
    const [x, y] = c.legA;
    mk('rect', {x:x, y:y, width:103, height:23, fill:'#fff', stroke:'#000', 'stroke-width':0.6}, lg);
    mk('line', {x1:x+6, x2:x+20, y1:y+7, y2:y+7, stroke:'#f00', 'stroke-width':1.5}, lg);
    mk('line', {x1:x+6, x2:x+20, y1:y+16, y2:y+16, stroke:'#00f', 'stroke-width':2}, lg);
    txt(lg, x+27, y+9.5, 'Averaged over runs', 6.5, 'start');
    txt(lg, x+27, y+18.5, 'Smoothed time series', 6.5, 'start');
  }
  if (c.legR) {
    const lg = mk('g', {}, g);
    
    
    const [x, y, n] = c.legR;
    mk('rect', {x:x, y:y, width:39, height:n*9.5+4, fill:'#fff', stroke:'#000', 'stroke-width':0.6}, lg);
    for (let i = 0; i < n; i++) {
      marker(lg, x+6, y+6+i*9.5, runShapes[i], runColors[i]);
      txt(lg, x+13, y+8.5+i*9.5, 'Run 0' + (i+1), 6.5, 'start');
    }
  }
}
const acc = v => v.toFixed(1);
const one = v => (Number.isInteger(v) ? String(v) : v.toFixed(1));
function mini(name, x0, y0, x1, y1, xl, yl, yt, fmt, ylab, panel, avg, smooth, r1, r2, sd, s1, s2, legA, legR){
  const series = [
    {kind:'pts', d:r1, shape:s1[0], color:s1[1], name:'run-a'},
    {kind:'pts', d:r2, shape:s2[0], color:s2[1], name:'run-b'}
  ];
  if (sd) series.push({kind:'err', d:avg, sd:sd});
  series.push({kind:'line', d:avg, color:'#ff0000', w:1.8, name:'averaged-line'});
  series.push({kind:'line', d:smooth, color:'#0000ff', w:2.2, name:'smoothed-line'});
  plot({name:name, x0:x0, y0:y0, x1:x1, y1:y1, xl:xl, yl:yl, yt:yt, fmt:fmt, ylab:ylab, panel:panel, series:series, legA:legA, legR:legR});
}
const XL1 = [-320, 8050], XL2 = [-320, 7800], XL3 = [-380, 8300];
const YA = [0.18, 1.02], YL1 = [-0.023, 1.04], YL5 = [-0.19, 5.21], YL12 = [-0.04, 1.245];
mini('fig5a-accuracy-training', 1840,208,2028,367, XL1, YA, accTicks, acc, 'Accuracy (training)', 'a)', f5aAvg, f5aSmooth, f5aRun1, f5aRun2, null, ['o','#000'], ['x','#ff00ff'], [1842,342], [1986,296,7]);
mini('fig5b-accuracy-validation', 1840,416,2028,575, XL1, YA, accTicks, acc, 'Accuracy (validation)', 'b)', f5bAvg, f5bSmooth, f5bRun1, f5bRun2, f5bSd, ['o','#000'], ['s','#d4a050'], [1842,548], [1986,504,7]);
mini('fig6a-loss-training', 2226,83,2408,243, XL2, YL1, loss1Ticks, acc, 'Loss (Training)', 'a)', f6aAvg, f6aSmooth, f6aRun1, f6aRun2, null, ['s','#d4a050'], ['x','#ff00ff'], [2268,85], [2370,85,7]);
mini('fig6b-loss-validation', 2226,291,2411,451, XL2, YL5, loss5Ticks, one, 'Loss (Validation)', 'b)', f6bAvg, f6bSmooth, f6bRun1, f6bRun2, f6bSd, ['o','#000'], ['s','#d4a050'], null, null);
mini('fig7a-accuracy-training', 2226,544,2408,705, XL2, YA, accTicks, acc, 'Accuracy (training)', 'a)', f7aAvg, f7aSmooth, f7aRun1, f7aRun2, f7aSd, ['o','#000'], ['^','#00c000'], [2231,678], [2369,671,3]);
mini('fig7b-accuracy-validation', 2226,753,2408,913, XL2, YA, accTicks, acc, 'Accuracy (validation)', 'b)', f7bAvg, f7bSmooth, f7bRun1, f7bRun2, f7bSd, ['o','#000'], ['^','#00c000'], [2231,887], [2369,878,3]);
mini('fig8a-loss-training', 2686,155,2873,315, XL1, YL12, loss12Ticks, acc, 'Loss (Training)', 'a)', f8aAvg, f8aSmooth, f8aRun1, f8aRun2, f8aSd, ['o','#000'], ['+','#e0e000'], [2688,157], [2831,157,3]);
mini('fig8b-loss-validation', 2686,363,2873,523, XL1, YL12, loss12Ticks, acc, 'Loss (Validation)', 'b)', f8bAvg, f8bSmooth, f8bRun1, f8bRun2, f8bSd, ['o','#000'], ['^','#00c000'], [2688,496], [2831,490,3]);
mini('fig9a-accuracy-training', 3074,83,3261,243, XL3, YA, accTicks, acc, 'Accuracy (training)', 'a)', f9aAvg, f9aSmooth, f9aRun1, f9aRun2, f9aSd, ['o','#000'], ['^','#00c000'], [3079,217], [3220,219,2]);
mini('fig9b-accuracy-validation', 3074,291,3261,451, XL3, YA, accTicks, acc, 'Accuracy (validation)', 'b)', f9bAvg, f9bSmooth, f9bRun1, f9bRun2, f9bSd, ['o','#000'], ['^','#00c000'], [3079,425], [3220,425,2]);
mini('fig10a-loss-training', 3074,559,3261,719, XL3, YL12, loss12Ticks, acc, 'Loss (Training)', 'a)', f10aAvg, f10aSmooth, f10aRun1, f10aRun2, f10aSd, ['o','#000'], ['^','#00c000'], [3079,561], [3220,561,2]);
mini('fig10b-loss-validation', 3074,767,3261,927, XL3, YL12, loss12Ticks, acc, 'Loss (Validation)', 'b)', f10bAvg, f10bSmooth, f10bRun1, f10bRun2, f10bSd, ['o','#000'], ['^','#00c000'], [3079,900], [3220,900,2]);

function fig11Legend(x, y, dashed, label, lx, ly){
  const lg = mk('g', {});
  
  
  mk('rect', {x:x, y:y, width:107, height:33, fill:'#fff', stroke:'#000', 'stroke-width':0.6}, lg);
  const cols = ['#ff0000', '#0000ff', '#00e000'];
  const names = ['original', 'lossless augmentation', 'lossy augmentation'];
  cols.forEach((col, i) => {
    const l = mk('line', {x1:x+6, x2:x+20, y1:y+7+i*9.5, y2:y+7+i*9.5, stroke:col, 'stroke-width':1.2}, lg);
    if (dashed) l.setAttribute('stroke-dasharray', '3,2');
    txt(lg, x+27, y+9.5+i*9.5, names[i], 6.5, 'start');
  });
  txt(lg, lx, ly, label, 6.5, 'start');
}
plot({name:'fig11a-accuracy', x0:3536, y0:506, x1:3723, y1:666, xl:XL1, yl:[0.466,1.235], yt:f11aTicks, fmt:acc, ylab:'Accuracy', panel:'a)', series:[
  {kind:'line', d:f11aOrigTrain, color:'#ff0000', w:1.2, name:'original-training'},
  {kind:'line', d:f11aOrigVal, color:'#ff0000', w:1.2, dash:'4,3', name:'original-validation'},
  {kind:'line', d:f11aLosslessTrain, color:'#0000ff', w:1.2, name:'lossless-training'},
  {kind:'line', d:f11aLosslessVal, color:'#0000ff', w:1.2, dash:'4,3', name:'lossless-validation'},
  {kind:'line', d:f11aLossyTrain, color:'#00e000', w:1.2, name:'lossy-training'},
  {kind:'line', d:f11aLossyVal, color:'#00e000', w:1.2, dash:'4,3', name:'lossy-validation'}]});
fig11Legend(3537, 507, false, 'Training', 3647, 529);
fig11Legend(3617, 630, true, 'Validation', 3576, 648);
plot({name:'fig11b-loss', x0:3536, y0:712, x1:3723, y1:874, xl:XL1, yl:[-1.87,4.78], yt:f11bTicks, fmt:one, ylab:'Loss', panel:'b)', series:[
  {kind:'line', d:f11bOrigTrain, color:'#ff0000', w:1.2, name:'original-training'},
  {kind:'line', d:f11bOrigVal, color:'#ff0000', w:1.2, dash:'4,3', name:'original-validation'},
  {kind:'line', d:f11bLosslessTrain, color:'#0000ff', w:1.2, name:'lossless-training'},
  {kind:'line', d:f11bLosslessVal, color:'#0000ff', w:1.2, dash:'4,3', name:'lossless-validation'},
  {kind:'line', d:f11bLossyTrain, color:'#00e000', w:1.2, name:'lossy-training'},
  {kind:'line', d:f11bLossyVal, color:'#00e000', w:1.2, dash:'4,3', name:'lossy-validation'}]});
fig11Legend(3537, 714, false, 'Training', 3647, 733);
fig11Legend(3617, 838, true, 'Validation', 3576, 855);

(function(){
  const g = mk('g', {});
  
  
  const x0 = 951, x1 = 1244, y0 = 626, y1 = 815;
  const vy = a => 647 + (100 - a) * 1.375;
  const centers = [1025, 1170];
  const fr = mk('rect', {x:x0, y:y0, width:x1-x0, height:y1-y0, fill:'none', stroke:'#000', 'stroke-width':0.8}, g);
  
  
  function half(cx, dens, side, col, nm){
    let d = 'M' + cx + ',' + vy(ages[0]);
    ages.forEach((a, i) => { d += ' L' + (cx + side * dens[i] * 58).toFixed(1) + ',' + vy(a).toFixed(1); });
    d += ' L' + cx + ',' + vy(ages[ages.length-1]) + ' Z';
    const p = mk('path', {d:d, fill:col, stroke:'#333', 'stroke-width':0.6}, g);
    
    
  }
  half(centers[0], d0Male, -1, '#2929e0', 'violin-disease0-male');
  half(centers[0], d0Female, 1, '#0f7a0f', 'violin-disease0-female');
  half(centers[1], d1Male, -1, '#2929e0', 'violin-disease1-male');
  half(centers[1], d1Female, 1, '#0f7a0f', 'violin-disease1-female');
  ageTicks.forEach(t => {
    mk('line', {x1:x0, x2:x0+4, y1:vy(t), y2:vy(t), stroke:'#000', 'stroke-width':0.6}, g);
    const lb = txt(g, x0-5, vy(t)+3, t < 0 ? '\u2212' + (-t) : String(t), 8, 'end');
    
    
  });
  ['0','1'].forEach((s, i) => {
    const lb = txt(g, centers[i], y1+9, s, 8);
    
    
  });
  const xt = txt(g, 1097, 837, 'Disease', 8.5);
  
  
  const yt = txt(g, 924, 720, 'Age', 8.5, 'middle', -90);
  
  
  const lg = mk('g', {}, g);
  
  
  mk('rect', {x:1190, y:626, width:47, height:49, fill:'#fff', stroke:'#888', 'stroke-width':0.6}, lg);
  txt(lg, 1213, 637, 'Gender', 7.5);
  mk('rect', {x:1195, y:643, width:20, height:8, fill:'#2929e0'}, lg);
  txt(lg, 1225, 650, 'M', 7.5);
  mk('rect', {x:1195, y:659, width:20, height:8, fill:'#0f7a0f'}, lg);
  txt(lg, 1225, 666, 'F', 7.5);
})();

(function(){
  const g = mk('g', {});
  
  
  const x0 = 1335, x1 = 1608, y0 = 180, y1 = 358;
  const sx = v => x0 + v * (x1 - x0) / 1.8;
  const sy = v => y1 - v * 0.725;
  areaBins.forEach((b, i) => {
    const top = Math.max(y0, sy(imageCounts[i]));
    const r = mk('rect', {x:sx(b), y:top, width:sx(0.045)-x0, height:y1-top, fill:'#ff0000', stroke:'#000', 'stroke-width':0.4}, g);
    
    
    const q = mk('rect', {x:sx(b+0.045), y:sy(maskCounts[i]), width:sx(0.045)-x0, height:y1-sy(maskCounts[i]), fill:'#0000ff', stroke:'#000', 'stroke-width':0.4}, g);
    
    
  });
  const fr = mk('rect', {x:x0, y:y0, width:x1-x0, height:y1-y0, fill:'none', stroke:'#000', 'stroke-width':0.8}, g);
  
  
  freqTicks.forEach(t => {
    const lb = txt(g, x0-4, sy(t)+3, String(t), 7.5, 'end');
    
    
  });
  areaTicks.forEach(t => {
    const lb = txt(g, sx(t), y1+9, t.toFixed(1), 7.5);
    
    
  });
  const xt = txt(g, 1472, 380, 'Area (normalized)', 7.5);
  
  
  const yt = txt(g, 1310, 270, 'Frequency', 7.5, 'middle', -90);
  
  
  const lg = mk('g', {}, g);
  
  
  mk('rect', {x:1532, y:181, width:71, height:35, fill:'#fff', stroke:'#000', 'stroke-width':0.6}, lg);
  mk('rect', {x:1537, y:187, width:19, height:7, fill:'#ff0000', stroke:'#000', 'stroke-width':0.4}, lg);
  txt(lg, 1563, 194, 'images', 8, 'start');
  mk('rect', {x:1537, y:202, width:19, height:7, fill:'#0000ff', stroke:'#000', 'stroke-width':0.4}, lg);
  txt(lg, 1563, 209, 'masks', 8, 'start');
})();
</script>
</body></html>
